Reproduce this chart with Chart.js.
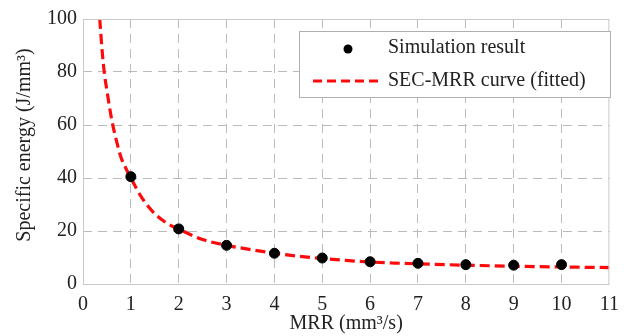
<!DOCTYPE html>
<html><head><meta charset="utf-8">
<script src="https://cdn.jsdelivr.net/npm/chart.js@4/dist/chart.umd.min.js"></script>
<style>html,body{margin:0;padding:0;background:#fff}#wrap{width:628px;height:336px}</style>
</head><body><div id="wrap"><canvas id="c" width="628" height="336"></canvas></div>
<script>
const simMRR = [1,2,3,4,5,6,7,8,9,10];
const simSEC = [40.5,20.8,14.6,11.6,9.8,8.4,7.8,7.3,7.1,7.3];
const fitMRR = [0.35,0.4,0.45,0.5,0.6,0.7,0.8,0.9,1.0,1.25,1.5,1.75,2,2.5,3,3.5,4,4.5,5,5.5,6,6.5,7,8,9,10,11];
const fitSEC = [100,88,79,73,62,54,47.5,43.5,40,32,26.5,23,20.7,16.8,14.6,13,11.6,10.5,9.6,8.9,8.3,7.9,7.6,7.1,6.7,6.4,6.2];
const xTicks = [0,1,2,3,4,5,6,7,8,9,10,11];
const yTicks = [0,20,40,60,80,100];
const seriesNames = ['Simulation result','SEC-MRR curve (fitted)'];
const xTitle = 'MRR (mm\u00B3/s)';
const yTitle = 'Specific energy (J/mm\u00B3)';

const FONT = "'Liberation Serif', 'Times New Roman', serif";
const gridCol = (ctx) => (ctx.index === 0 || ctx.index === ctx.chart.scales[ctx.scale.id].ticks.length - 1) ? 'rgba(0,0,0,0)' : '#bbbbbb';

const boxPlugin = {
  id: 'boxLegend',
  afterDraw(chart) {
    const ctx = chart.ctx, a = chart.chartArea;
    ctx.save();
    ctx.strokeStyle = '#c8c8c8'; ctx.lineWidth = 1; ctx.setLineDash([]);
    ctx.strokeRect(a.left + 0.5, a.top + 0.5, a.right - a.left - 1, a.bottom - a.top);
    // y axis title
    ctx.save();
    ctx.translate(25, 145); ctx.rotate(-Math.PI / 2);
    ctx.fillStyle = '#222'; ctx.font = '20px ' + FONT; ctx.textAlign = 'center'; ctx.textBaseline = 'middle';
    ctx.fillText(yTitle, 0, 0);
    ctx.restore();
    // legend box
    const bx = 299, by = 31, bw = 311, bh = 66;
    ctx.fillStyle = '#fff'; ctx.fillRect(bx, by, bw, bh);
    ctx.strokeStyle = '#b0b0b0'; ctx.strokeRect(bx + 0.5, by + 0.5, bw, bh);
    const ds = chart.data.datasets;
    ctx.fillStyle = '#000';
    ctx.beginPath(); ctx.arc(348, 49, 4.5, 0, Math.PI * 2); ctx.fill();
    ctx.strokeStyle = ds[1].borderColor; ctx.lineWidth = 3; ctx.setLineDash([9, 5]);
    ctx.beginPath(); ctx.moveTo(313, 81); ctx.lineTo(378, 81); ctx.stroke();
    ctx.setLineDash([]);
    ctx.fillStyle = '#222'; ctx.font = '20px ' + FONT; ctx.textBaseline = 'middle'; ctx.textAlign = 'left';
    ctx.fillText(ds[0].label, 388, 48);
    ctx.fillText(ds[1].label, 388, 81);
    ctx.restore();
  }
};

new Chart(document.getElementById('c'), {
  type: 'scatter',
  data: {
    datasets: [
      { label: seriesNames[0], data: simMRR.map((x, i) => ({x, y: simSEC[i]})),
        backgroundColor: '#000', borderColor: '#000', pointRadius: 5, showLine: false },
      { label: seriesNames[1], data: fitMRR.map((x, i) => ({x, y: fitSEC[i]})),
        showLine: true, borderColor: '#ff0a0a', borderWidth: 3.2, borderDash: [10, 5],
        pointRadius: 0, cubicInterpolationMode: 'monotone', fill: false }
    ]
  },
  options: {
    responsive: false, animation: false, devicePixelRatio: 1,
    layout: { padding: { top: 19, right: 17, left: 0, bottom: 0 } },
    plugins: { legend: { display: false }, tooltip: { enabled: false } },
    scales: {
      x: {
        type: 'linear', min: 0, max: 11,
        afterBuildTicks: (s) => { s.ticks = xTicks.map(v => ({value: v})); },
        afterFit: (s) => { s.height = 52; },
        grid: { color: gridCol, lineWidth: 1, drawTicks: false },
        border: { display: false, dash: [9, 6] },
        ticks: { color: '#222', padding: 9, font: { family: FONT, size: 20 }, maxRotation: 0 },
        title: { display: true, text: xTitle, color: '#222', font: { family: FONT, size: 20 }, padding: { top: 0, bottom: 0 } }
      },
      y: {
        type: 'linear', min: 0, max: 100,
        afterBuildTicks: (s) => { s.ticks = yTicks.map(v => ({value: v})); },
        afterFit: (s) => { s.width = 83; },
        grid: { color: gridCol, lineWidth: 1, drawTicks: false },
        border: { display: false, dash: [9, 6] },
        ticks: { color: '#222', padding: 6, font: { family: FONT, size: 20 } },
        title: { display: false, text: yTitle }
      }
    }
  },
  plugins: [boxPlugin]
});
</script></body></html>
